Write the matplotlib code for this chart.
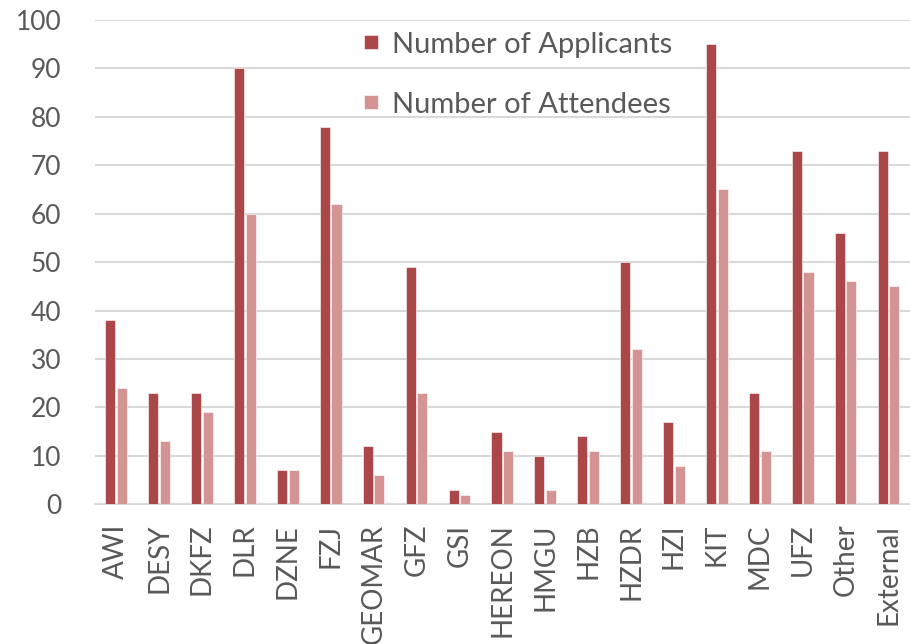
import matplotlib.pyplot as plt
import numpy as np

institutes = ["AWI", "DESY", "DKFZ", "DLR", "DZNE", "FZJ", "GEOMAR", "GFZ", "GSI",
              "HEREON", "HMGU", "HZB", "HZDR", "HZI", "KIT", "MDC", "UFZ", "Other",
              "External"]
applicants = [38, 23, 23, 90, 7, 78, 12, 49, 3, 15, 10, 14, 50, 17, 95, 23, 73, 56, 73]
attendees = [24, 13, 19, 60, 7, 62, 6, 23, 2, 11, 3, 11, 32, 8, 65, 11, 48, 46, 45]

plt.rcParams["font.family"] = ["Lato", "DejaVu Sans"]
text_color = "#595959"
grid_color = "#d9d9d9"

fig = plt.figure(figsize=(9.1, 6.44), dpi=100)
ax = fig.add_axes([0.104, 0.217, 0.896, 0.752])

x = np.arange(len(institutes))
w = 0.235
ax.bar(x - 0.135, applicants, w, color="#ab4748", edgecolor="white", linewidth=0.4,
       label="Number of Applicants", zorder=3)
ax.bar(x + 0.135, attendees, w, color="#d49494", edgecolor="white", linewidth=0.4,
       label="Number of Attendees", zorder=3)

ax.set_xlim(-0.5, len(institutes) - 0.5)
ax.set_ylim(0, 100)
ax.set_yticks(np.arange(0, 101, 10))
ax.set_xticks(x)
ax.set_xticklabels(institutes, rotation=90)
ax.yaxis.grid(True, color=grid_color, linewidth=1.5, zorder=0)
ax.set_axisbelow(True)
for side in ["top", "right", "left"]:
    ax.spines[side].set_visible(False)
ax.spines["bottom"].set_color(grid_color)
ax.spines["bottom"].set_linewidth(1.5)
ax.tick_params(axis="both", length=0, labelsize=19, labelcolor=text_color)
ax.tick_params(axis="x", labelsize=20, pad=14)
ax.tick_params(axis="y", pad=24)

leg = ax.legend(loc="upper left", bbox_to_anchor=(0.298, 1.03), frameon=False,
                fontsize=21, labelspacing=1.17, handlelength=0.5, handleheight=0.35,
                handletextpad=0.45)
for t in leg.get_texts():
    t.set_color(text_color)

fig.savefig("out.png", dpi=100)
